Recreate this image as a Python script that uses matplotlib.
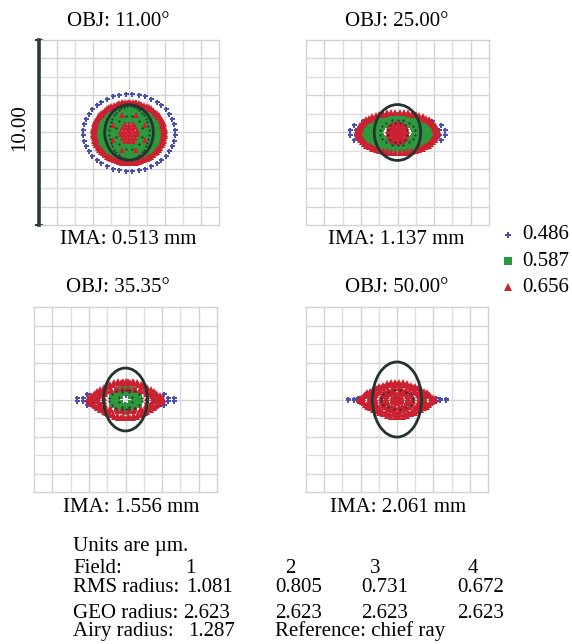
import numpy as np
import matplotlib
matplotlib.use("Agg")
import matplotlib.pyplot as plt
from matplotlib.patches import Ellipse
from matplotlib.lines import Line2D

plt.rcParams["font.family"] = ["Liberation Serif", "DejaVu Serif"]

W, H = 572, 644

# ── data (µm) ─────────────────────────────────────────────────────────────────
fields = ["OBJ: 11.00°", "OBJ: 25.00°", "OBJ: 35.35°", "OBJ: 50.00°"]
ima = ["IMA: 0.513 mm", "IMA: 1.137 mm", "IMA: 1.556 mm", "IMA: 2.061 mm"]
wavelengths = ["0.486", "0.587", "0.656"]

# rings of traced points per field: (semi-axis x, semi-axis y, number of rays)
blue_rings = [
    [(2.55, 2.08, 44)],
    [(2.65, 0.85, 20), (2.35, 0.6, 12)],
    [(2.7, 0.45, 14), (2.45, 0.25, 10)],
    [(2.75, 0.12, 14), (2.5, 0.05, 10)],
]
green_rings = [
    [(1.66, 1.5, 72), (1.52, 1.4, 66), (1.38, 1.3, 60), (1.24, 1.18, 54),
     (1.1, 1.06, 48), (0.95, 0.94, 40), (0.8, 0.82, 34), (0.65, 0.68, 28)],
    [(1.88, 0.92, 50), (1.65, 0.86, 46), (1.4, 0.8, 40), (1.15, 0.72, 36), (0.95, 0.62, 30)],
    [(1.92, 0.18, 8), (0.75, 0.55, 18), (0.6, 0.7, 14), (0.5, 0.4, 14), (0.3, 0.6, 10)],
    [(1.6, 0.22, 8), (1.45, 0.12, 6)],
]
red_rings = [
    [(2.0, 1.66, 80), (1.9, 1.6, 74), (0.95, 1.0, 8), (0.45, 0.48, 14),
     (0.28, 0.3, 10), (0.1, 0.12, 4)],
    [(2.2, 1.12, 60), (2.05, 1.05, 56), (0.55, 0.55, 16), (0.4, 0.4, 14), (0.25, 0.25, 10), (0.1, 0.1, 4)],
    [(2.05, 0.62, 40), (1.8, 0.9, 40), (1.5, 1.02, 36), (1.2, 0.98, 30), (1.55, 0.55, 28)],
    [(2.07, 0.45, 44), (1.85, 0.8, 44), (1.5, 0.95, 40), (1.2, 0.82, 34), (0.9, 0.6, 28),
     (0.6, 0.4, 20), (0.3, 0.2, 10), (0.0, 0.0, 1)],
]
dark_rings = [
    [(1.1, 1.42, 40), (0.75, 0.9, 12)],
    [(0.95, 0.7, 18), (0.55, 0.55, 12)],
    [(0.9, 0.55, 16), (0.35, 0.5, 10)],
    [(0.9, 0.5, 16)],
]
# Airy disk outline per field (semi-axes, µm)
airy_rx = [1.35, 1.27, 1.2, 1.35]
airy_ry = [1.5, 1.51, 1.7, 2.03]

# table under the plots
rms = ["1.081", "0.805", "0.731", "0.672"]
geo = ["2.623", "2.623", "2.623", "2.623"]
airy_radius = "1.287"

BLUE = "#4b4fb0"
GREEN = "#2c9a3c"
RED = "#cc2131"
DARK = "#24332f"
GRID = "#dedede"

# panel boxes in pixels: left, top, width, height
boxes = [(39, 40, 180, 185), (306, 40, 183, 185), (34, 307, 183, 185), (306, 307, 182, 185)]
title_pos = [(118, 21), (397, 21), (118, 287), (397, 287)]
ima_pos = [(128, 240), (396, 240), (131, 508), (398, 508)]


def fx(x):
    return x / W


def fy(y):
    return 1 - y / H


def ring_points(rings):
    xs, ys = [], []
    for rx, ry, n in rings:
        t = np.linspace(0, 2 * np.pi, n, endpoint=False) + np.pi / n
        xs.append(rx * np.cos(t))
        ys.append(ry * np.sin(t))
    return np.concatenate(xs), np.concatenate(ys)


fig = plt.figure(figsize=(W / 100, H / 100), dpi=100)

for i in range(4):
    l, t, w, h = boxes[i]
    ax = fig.add_axes([fx(l), fy(t + h), w / W, h / H])
    ax.set_xlim(-5, 5)
    ax.set_ylim(-5, 5)
    ax.set_xticks([])
    ax.set_yticks([])
    for s in ax.spines.values():
        s.set_color("#d2d2d2")
        s.set_linewidth(1.0)

    # grid: solid light lines with dotted overlay on alternating lines
    for k, g in enumerate(np.arange(-4, 5)):
        ax.axvline(g, color=GRID, lw=1.0, zorder=0)
        ax.axhline(g, color=GRID, lw=1.0, zorder=0)
        if k % 2 == 0:
            ax.axvline(g, color="#c4c4c4", lw=0.8, ls=(0, (1, 1.5)), zorder=0)
            ax.axhline(g, color="#c4c4c4", lw=0.8, ls=(0, (1, 1.5)), zorder=0)

    bx, by = ring_points(blue_rings[i])
    ax.plot(bx, by, "P", color=BLUE, ms=3.6, mew=0, ls="none", zorder=2)
    gx, gy = ring_points(green_rings[i])
    ax.plot(gx, gy, "s", color=GREEN, ms=4.8, mew=0, ls="none", zorder=3)
    rx_, ry_ = ring_points(red_rings[i])
    ax.plot(rx_, ry_, "^", color=RED, ms=4.3, mew=0, ls="none", zorder=4)
    dx, dy = ring_points(dark_rings[i])
    ax.plot(dx, dy, "o", color=DARK, ms=1.6, mew=0, ls="none", zorder=5)

    ax.add_patch(Ellipse((0, 0), 2 * airy_rx[i], 2 * airy_ry[i], fill=False,
                         ec=DARK, lw=2.0, zorder=6))

    fig.text(fx(title_pos[i][0]), fy(title_pos[i][1]), fields[i],
             ha="center", va="center", fontsize=15)
    fig.text(fx(ima_pos[i][0]), fy(ima_pos[i][1]), ima[i],
             ha="center", va="center", fontsize=15)

    if i == 0:
        # 10 µm scale bar along the left edge
        ax.plot([-5, -5], [-5, 5], color="#2e3a38", lw=2.6, clip_on=False, zorder=7)
        ax.plot([-5.15, -4.85], [5, 5], color="#2e3a38", lw=1.5, clip_on=False)
        ax.plot([-5.15, -4.85], [-5, -5], color="#2e3a38", lw=1.5, clip_on=False)

fig.text(fx(20), fy(128), "10.00", rotation=90, ha="center", va="center", fontsize=15)

# legend on the right
leg_y = [235, 261, 287]
markers = [("P", BLUE, 4.5), ("s", GREEN, 5.5), ("^", RED, 5.5)]
for yy, lab, (m, c, ms) in zip(leg_y, wavelengths, markers):
    fig.add_artist(Line2D([fx(508)], [fy(yy)], marker=m, color=c, ms=ms, mew=0,
                          ls="none", transform=fig.transFigure))
    fig.text(fx(522), fy(yy), lab, ha="left", va="center", fontsize=15)

# text block (baseline aligned)
fs = 15
kw = dict(ha="left", va="baseline", fontsize=fs)
fig.text(fx(73), fy(551), "Units are µm.", **kw)
fig.text(fx(73), fy(573), "Field:", **kw)
for xx, lab in zip([190, 290, 375, 473], ["1", "2", "3", "4"]):
    fig.text(fx(xx), fy(573), lab, ha="center", va="baseline", fontsize=fs)
fig.text(fx(73), fy(592), "RMS radius:", **kw)
fig.text(fx(73), fy(618), "GEO radius:", **kw)
for xx, a, b in zip([186, 275, 361, 457], rms, geo):
    fig.text(fx(xx), fy(592), a, **kw)
    fig.text(fx(xx - 3 if xx == 186 else xx), fy(618), b, **kw)
fig.text(fx(73), fy(636), "Airy radius:", **kw)
fig.text(fx(188), fy(636), airy_radius, **kw)
fig.text(fx(275), fy(636), "Reference: chief ray", **kw)

fig.savefig("out.png", dpi=100)
